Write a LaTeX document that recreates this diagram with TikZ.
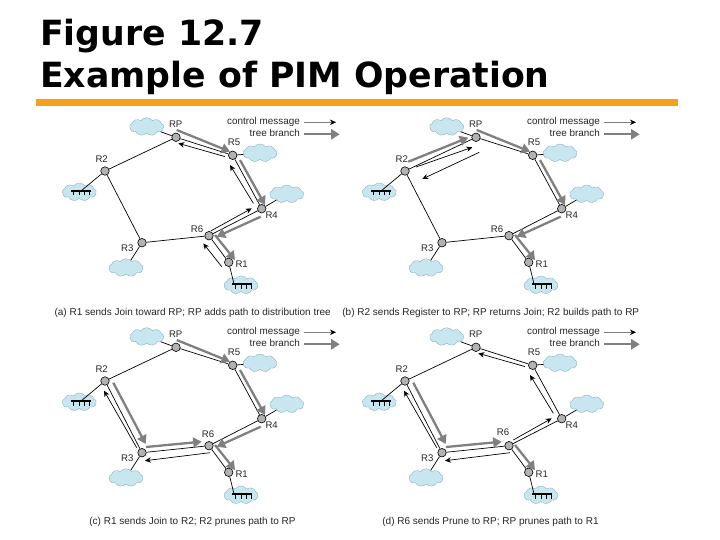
\documentclass[tikz,border=0pt]{standalone}
\usepackage{fontspec}
\setmainfont{Liberation Sans}
\newfontfamily\titlefont{DejaVu Sans}
\usetikzlibrary{arrows.meta, calc, shapes.symbols}
\definecolor{cloudblue}{HTML}{C8E6F0}
\definecolor{cloudline}{HTML}{7FA6B8}
\definecolor{titlebar}{HTML}{F7A11A}

\begin{document}
\begin{tikzpicture}[x=1pt, y=-1pt]
    \tikzset{
        router/.style={circle, draw=black, line width=0.6pt, fill=gray!60, minimum size=8.5pt, inner sep=0pt},
        lan cloud/.style={cloud, cloud puffs=9, cloud puff arc=110, aspect=2, draw=cloudline, line width=0.3pt, fill=cloudblue, minimum width=34pt, minimum height=18pt, inner sep=0pt},
        slide title/.style={font=\titlefont\bfseries\fontsize{34.7}{42}\selectfont, anchor=base west, inner sep=0pt},
        router label/.style={font=\fontsize{9.6}{11}\selectfont, text=black!85, inner sep=0pt},
        legend label/.style={font=\fontsize{9.9}{11}\selectfont, text=black!85, inner sep=0pt, anchor=east},
        panel caption/.style={font=\fontsize{10}{12}\selectfont, text=black!85, inner sep=0pt},
        link/.style={draw=black, line width=0.7pt},
        control message/.style={draw=black, line width=0.7pt, -{Stealth[length=6pt, width=5.5pt, black]}},
        tree branch/.style={draw=gray, line width=2.3pt, -{Triangle[length=8.5pt, width=10pt]}},
        % one network with its legend, placed once per panel
        pimnet/.pic={
            \node[lan cloud] (cloudRP) at (106.7, 21.7) {};
            \node[lan cloud] (cloudR5) at (220, 48) {};
            \node[lan cloud] (cloudR4) at (246.7, 89) {};
            \node[lan cloud] (cloudR3) at (86, 162.7) {};
            \node[lan cloud] (cloudR2) at (39.3, 87) {};
            \node[lan cloud] (cloudR1) at (201, 180) {};
            \node[router] (RP) at (136, 32.3) {};
            \node[router] (R5) at (192.7, 50.3) {};
            \node[router] (R4) at (221.7, 103.7) {};
            \node[router] (R6) at (169, 130.7) {};
            \node[router] (R1) at (188.7, 157.3) {};
            \node[router] (R3) at (102, 137.7) {};
            \node[router] (R2) at (65, 66) {};
            \coordinate (busR2) at (41, 86);
            \coordinate (busR1) at (194, 179);
            \draw[link] (RP) -- (R5);
            \draw[link] (R5) -- (R4);
            \draw[link] (R4) -- (R6);
            \draw[link] (R6) -- (R1);
            \draw[link] (R6) -- (R3);
            \draw[link] (R3) -- (R2);
            \draw[link] (R2) -- (RP);
            \draw[link] (RP) -- (cloudRP);
            \draw[link] (R5) -- (cloudR5);
            \draw[link] (R4) -- (cloudR4);
            \draw[link] (R3) -- (cloudR3);
            \draw[link] (R2) -- (busR2);
            \draw[link] (R1) -- (busR1);
            % LAN bars
            \draw[line width=1.2pt] ($(busR2)+(-10,0)$) -- ($(busR2)+(10,0)$);
            \draw[line width=1.2pt] ($(busR1)+(-2,0)$) -- ($(busR1)+(18,0)$);
            \foreach \tooth in {-8, -2, 3, 8} {
                \draw[line width=0.9pt] ($(busR2)+(\tooth,0)$) -- ($(busR2)+(\tooth,4.5)$);
                \draw[line width=0.9pt] ($(busR1)+(\tooth+9,0)$) -- ($(busR1)+(\tooth+9,4.5)$);
            }
            \node[router label] (labelRP) at (135.7, 19) {RP};
            \node[router label] (labelR5) at (194, 37) {R5};
            \node[router label] (labelR4) at (231.7, 110.2) {R4};
            \node[router label] (labelR1) at (201.7, 158.8) {R1};
            \node[router label] (labelR3) at (87.3, 143.3) {R3};
            \node[router label] (labelR2) at (61.7, 54.3) {R2};
            \node[legend label] (labelControl) at (260, 17) {control message};
            \node[legend label] (labelTree) at (260, 28.3) {tree branch};
            \coordinate (controlEnd) at (296, 17.3);
            \coordinate (treeEnd) at (299.7, 29.3);
            \draw[control message, draw=gray] (labelControl.east) ++(3.5,0.3) -- (controlEnd);
            \draw[tree branch] (labelTree.east) ++(4,1) -- (treeEnd);
        }
    }
    \useasboundingbox (0,0) rectangle (720,540);
    \fill[white] (0,0) rectangle (720,540);

    \node[slide title] (titleFigure) at (40,45.7) {Figure 12.7};
    \node[slide title] (titleExample) at (40,88) {Example of PIM Operation};
    \fill[titlebar] (36,99) rectangle (678,106);

    \pic (a) at (40,105) {pimnet};
    \pic (b) at (340,105) {pimnet};
    \pic (c) at (40,315) {pimnet};
    \pic (d) at (340,315) {pimnet};

    \node[router label] (aLabelR6) at ($(aR6)+(-12,-7)$) {R6};
    \node[router label] (bLabelR6) at ($(bR6)+(-12,-7)$) {R6};
    \node[router label] (cLabelR6) at ($(cR6)+(-1,-12)$) {R6};
    \node[router label] (dLabelR6) at ($(dR6)+(-6,-14)$) {R6};

    % (a)
    \draw[tree branch] ($(aRP)+(0.7,-7.3)$) -- ($(aR5)+(-2.7,-3.7)$);
    \draw[tree branch] ($(aR5)+(7.3,4.7)$) -- ($(aR4)+(3.3,-3.7)$);
    \draw[tree branch] ($(aR4)+(-1,8)$) -- ($(aR6)+(7.7,1)$);
    \draw[tree branch] ($(aR6)+(6,-0.7)$) -- ($(aR1)+(6.3,-2.3)$);
    \draw[control message] ($(aR1)+(-7,4.3)$) -- ($(aR6)+(-5.7,7.7)$);
    \draw[control message] ($(aR6)+(1.7,-4.7)$) -- ($(aR4)+(-10,-0.3)$);
    \draw[control message] ($(aR4)+(-8.3,-5.3)$) -- ($(aR5)+(-2.7,9.7)$);
    \draw[control message] ($(aR5)+(-7.7,1.3)$) -- ($(aRP)+(2.3,6)$);

    % (b)
    \draw[tree branch] ($(bRP)+(0.7,-7.3)$) -- ($(bR5)+(-2.7,-3.7)$);
    \draw[tree branch] ($(bR5)+(7.3,4.7)$) -- ($(bR4)+(3.3,-3.7)$);
    \draw[tree branch] ($(bR4)+(-1,8)$) -- ($(bR6)+(7.7,1)$);
    \draw[tree branch] ($(bR6)+(6,-0.7)$) -- ($(bR1)+(6.3,-2.3)$);
    \draw[tree branch] ($(bR2)+(3.3,-9.3)$) -- ($(bRP)+(-7.7,0.3)$);
    \draw[control message] ($(bR2)+(11,-4)$) -- ($(bRP)+(-3.7,10)$);
    \draw[control message] ($(bRP)+(3.3,15)$) -- ($(bR2)+(17.3,8)$);

    % (c)
    \draw[tree branch] ($(cRP)+(0.7,-7.3)$) -- ($(cR5)+(-2.7,-3.7)$);
    \draw[tree branch] ($(cR5)+(7.3,4.7)$) -- ($(cR4)+(3.3,-3.7)$);
    \draw[tree branch] ($(cR4)+(-1,8)$) -- ($(cR6)+(7.7,1)$);
    \draw[tree branch] ($(cR6)+(6,-0.7)$) -- ($(cR1)+(6.3,-2.3)$);
    \draw[tree branch] ($(cR2)+(8.3,1.7)$) -- ($(cR3)+(3.7,-8.7)$);
    \draw[tree branch] ($(cR3)+(4,-5.7)$) -- ($(cR6)+(-7.3,-4)$);
    \draw[control message] ($(cR3)+(-5.3,-5)$) -- ($(cR2)+(-1,9.7)$);
    \draw[control message] ($(cR6)+(1,7)$) -- ($(cR3)+(3,8)$);

    % (d)
    \draw[tree branch] ($(dR6)+(6,-0.7)$) -- ($(dR1)+(6.3,-2.3)$);
    \draw[tree branch] ($(dR2)+(8.3,1.7)$) -- ($(dR3)+(3.7,-8.7)$);
    \draw[tree branch] ($(dR3)+(4,-5.7)$) -- ($(dR6)+(-7.3,-4)$);
    \draw[control message] ($(dR3)+(-5.3,-5)$) -- ($(dR2)+(-1,9.7)$);
    \draw[control message] ($(dR6)+(1,7)$) -- ($(dR3)+(3,8)$);
    \draw[control message] ($(dR6)+(4.3,-5.7)$) -- ($(dR4)+(-10,-0.3)$);
    \draw[control message] ($(dR4)+(-8.3,-5.3)$) -- ($(dR5)+(-2.7,9.7)$);
    \draw[control message] ($(dR5)+(-7.7,1.3)$) -- ($(dRP)+(2.3,6)$);

    \node[panel caption] (captionA) at (192.7,313) {(a) R1 sends Join toward RP; RP adds path to distribution tree};
    \node[panel caption] (captionB) at (490.8,313) {(b) R2 sends Register to RP; RP returns Join; R2 builds path to RP};
    \node[panel caption] (captionC) at (192.5,522) {(c) R1 sends Join to R2; R2 prunes path to RP};
    \node[panel caption] (captionD) at (490.5,522) {(d) R6 sends Prune to RP; RP prunes path to R1};
\end{tikzpicture}
\end{document}
